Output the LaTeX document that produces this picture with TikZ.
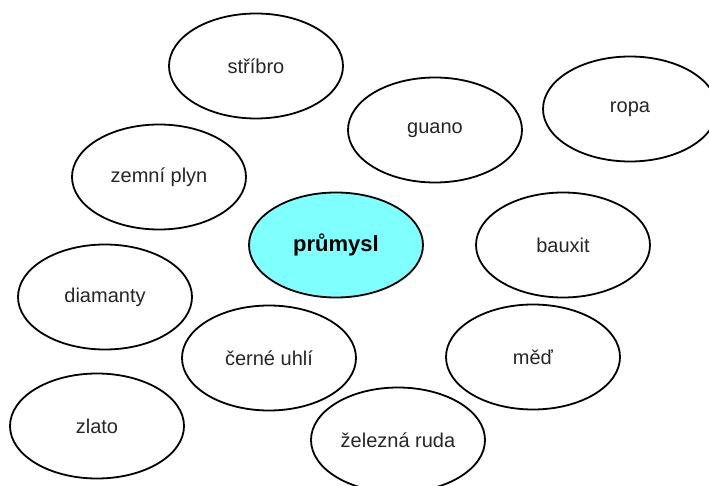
\documentclass[tikz,border=0pt]{standalone}
\usepackage{fontspec}
\setmainfont{Liberation Sans}
\usepackage{tikz}
\usetikzlibrary{shapes.geometric}
\definecolor{industrycyan}{RGB}{128,255,255}

\begin{document}
\begin{tikzpicture}[x=1pt,y=-1pt,
		resource/.style={ellipse,draw=black,line width=1.8pt,fill=white,inner sep=0pt,
			minimum width=174pt,minimum height=105pt,text=black!85,font=\fontsize{20}{24}\selectfont},
		centre/.style={resource,fill=industrycyan,text=black,font=\fontsize{22}{26}\selectfont\bfseries}]
		\useasboundingbox (0,0) rectangle (709,486);
		\clip (0,0) rectangle (709,486);
		\fill[white] (0,0) rectangle (709,486);
		\node[resource] (stribro) at (256,66) {stříbro};
		\node[resource] (guano) at (435,130) {guano};
		\node[resource] (ropa) at (630,109) {ropa};
		\node[resource] (plyn) at (159,177) {zemní plyn};
		\node[centre] (prumysl) at (336,245) {průmysl};
		\node[resource] (bauxit) at (563,245) {bauxit};
		\node[resource] (diamanty) at (105,297) {diamanty};
		\node[resource] (uhli) at (269,358) {černé uhlí};
		\node[resource] (med) at (533,357) {měď};
		\node[resource] (zlato) at (97,426) {zlato};
		\node[resource] (ruda) at (398,440) {železná ruda};
\end{tikzpicture}
\end{document}
